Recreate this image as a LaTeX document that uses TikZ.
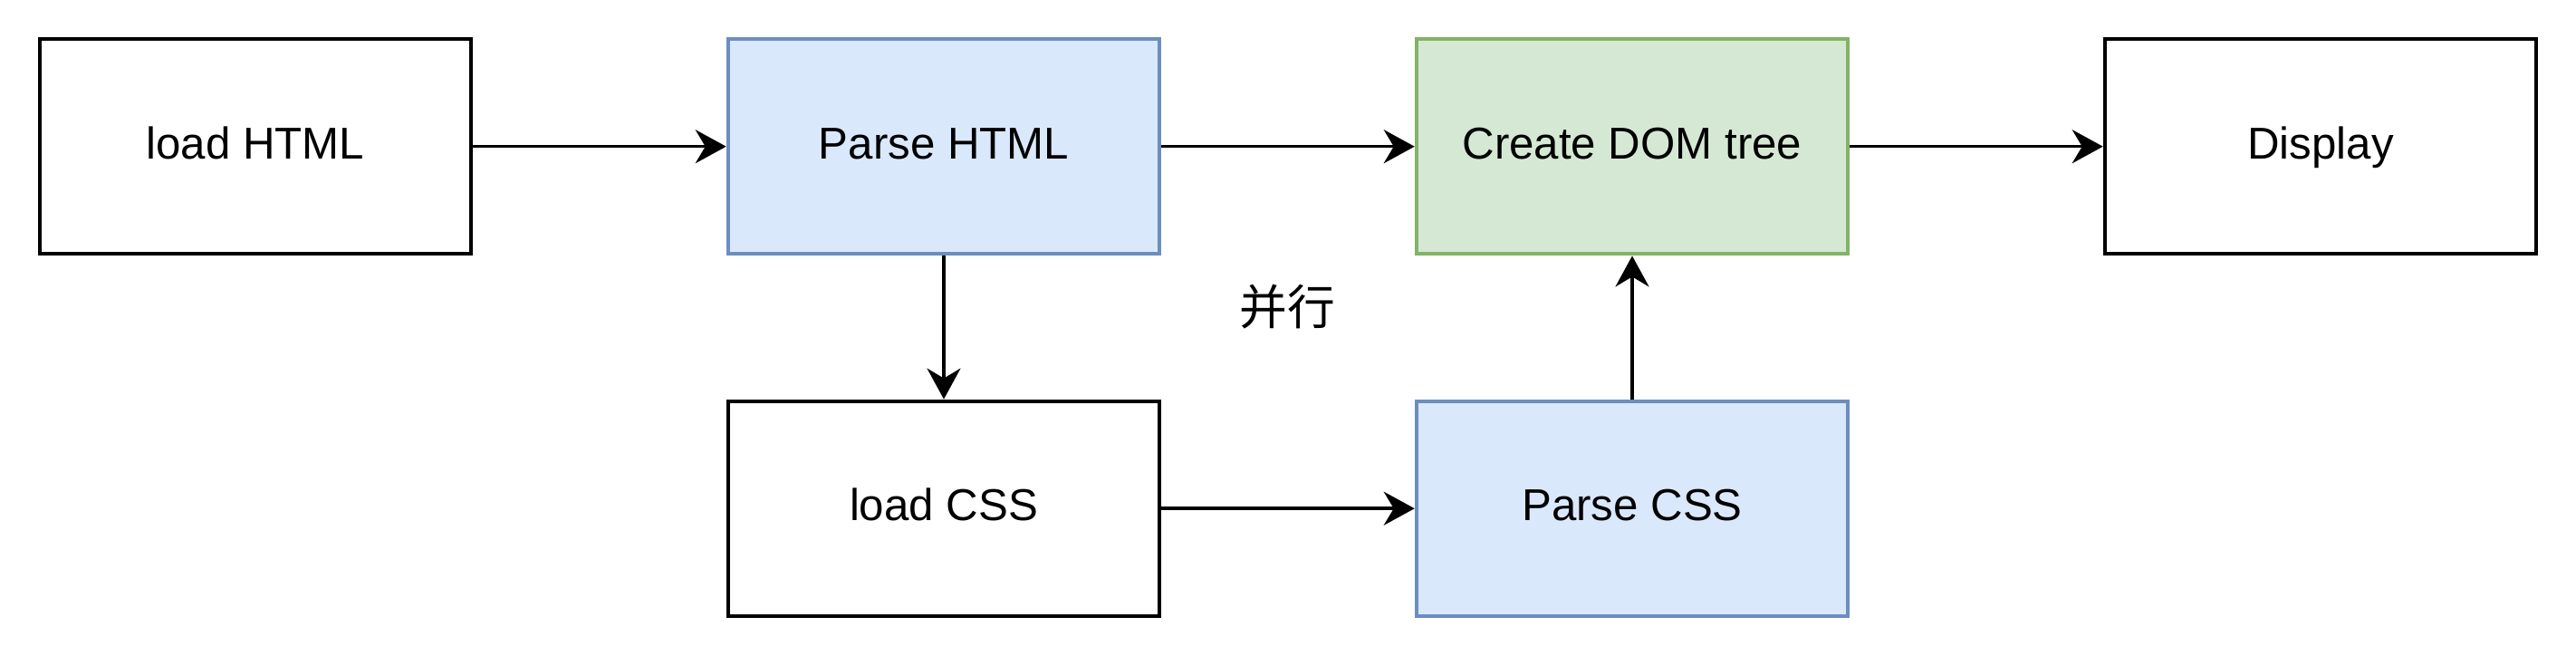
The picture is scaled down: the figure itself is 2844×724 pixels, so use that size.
\documentclass[tikz,border=0pt]{standalone}
\usepackage{fontspec}
\setmainfont{Liberation Sans}
\newfontfamily\cjk{Noto Sans CJK SC}
\usetikzlibrary{arrows.meta}
\definecolor{blueFill}{HTML}{DAE8FC}
\definecolor{blueLine}{HTML}{6C8EBF}
\definecolor{greenFill}{HTML}{D5E8D4}
\definecolor{greenLine}{HTML}{82B366}
\tikzset{
    stepbox/.style={draw=black, line width=1.2pt, fill=white, minimum width=4.76cm, minimum height=2.37cm,
        inner sep=0pt, text height=10pt, text depth=2.4pt, font=\fontsize{14}{16}\selectfont},
    parsebox/.style={stepbox, draw=blueLine, fill=blueFill},
    treebox/.style={stepbox, draw=greenLine, fill=greenFill},
    flow/.style={-{Stealth[length=3.4mm, width=3.7mm, inset=1.1mm]}, line width=1pt}
}
\begin{document}
\begin{tikzpicture}[x=0.01cm, y=-0.01cm]
    \useasboundingbox (0,0) rectangle (2844,724);
    % top row
    \node[stepbox]  (loadhtml)  at (282,161.7)  {load HTML};
    \node[parsebox] (parsehtml) at (1042,161.7) {Parse HTML};
    \node[treebox]  (domtree)   at (1802,161.7) {Create DOM tree};
    \node[stepbox]  (display)   at (2562,161.7) {Display};
    % bottom row
    \node[stepbox]  (loadcss)   at (1042,561.2) {load CSS};
    \node[parsebox] (parsecss)  at (1802,561.2) {Parse CSS};
    \node[font=\cjk\fontsize{15}{17}\selectfont] (parallel) at (1421,339) {并行};
    % arrows
    \draw[flow] (loadhtml) -- (parsehtml);
    \draw[flow] (parsehtml) -- (domtree);
    \draw[flow] (domtree) -- (display);
    \draw[flow] (parsehtml) -- (loadcss);
    \draw[flow] (loadcss) -- (parsecss);
    \draw[flow] (parsecss) -- (domtree);
\end{tikzpicture}
\end{document}
